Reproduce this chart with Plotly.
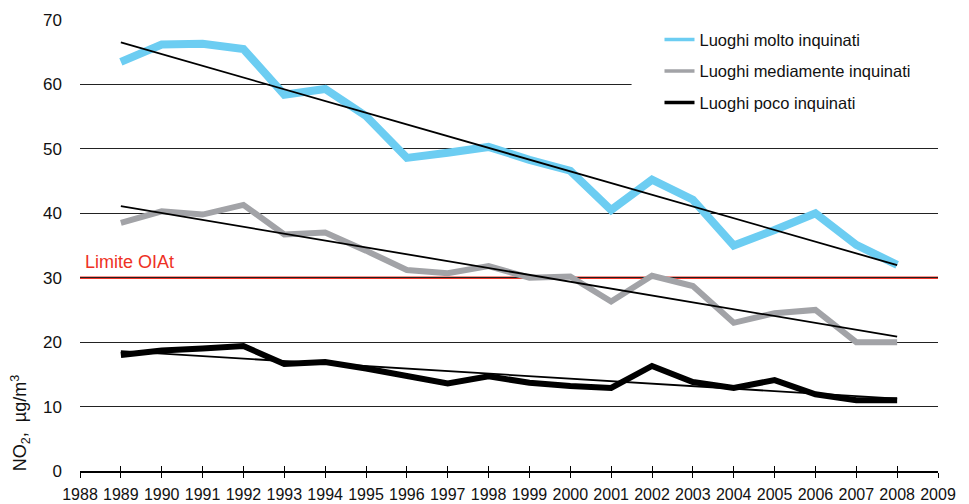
import numpy as np
import plotly.graph_objects as go

# NO2 annual means (µg/m3)
years = list(range(1989, 2009))
molto = [63.5, 66.2, 66.3, 65.5, 58.4, 59.3, 55.1, 48.6, 49.4, 50.3,
         48.3, 46.6, 40.5, 45.2, 42.1, 35.0, 37.4, 40.0, 35.1, 32.0]
medio = [38.5, 40.3, 39.8, 41.3, 36.7, 37.0, 34.2, 31.2, 30.7, 31.8,
         30.0, 30.2, 26.3, 30.3, 28.7, 23.0, 24.5, 25.0, 20.0, 20.0]
poco = [18.0, 18.7, 19.0, 19.4, 16.6, 16.9, 15.9, 14.8, 13.6, 14.7,
        13.7, 13.2, 12.9, 16.3, 13.8, 12.9, 14.1, 11.9, 11.0, 11.0]
names = ["Luoghi molto inquinati", "Luoghi mediamente inquinati", "Luoghi poco inquinati"]
colors = ["#6ccdf2", "#a2a3a7", "#000000"]
widths = [8, 6, 6]
limit_oiat = 30
tick_years = list(range(1988, 2010))

FONT = "Liberation Sans, Arial, sans-serif"

fig = go.Figure()

for i, (series, name) in enumerate(zip([molto, medio, poco], names)):
    fig.add_trace(go.Scatter(
        x=years, y=series, mode='lines', name=name, showlegend=False,
        line=dict(color=colors[i], width=widths[i]),
    ))
    # legend-only entry with a thinner sample line
    fig.add_trace(go.Scatter(
        x=[None], y=[None], mode='lines', name=name, legendgroup=f"g{i}",
        line=dict(color=colors[i], width=3.5),
    ))

# linear trends, drawn on an overlaid axis so they sit above the series
for series in [molto, medio, poco]:
    k, q = np.polyfit(years, series, 1)
    fit = [k * yr + q for yr in years]
    fig.add_trace(go.Scatter(
        x=years, y=fit, mode='lines', showlegend=False, hoverinfo='skip',
        line=dict(color='black', width=1.8), xaxis='x2',
    ))

fig.add_hline(y=limit_oiat, line=dict(color='#ee3124', width=2.5), layer='below')
fig.add_annotation(text="Limite OIAt", xref='paper', yref='y', x=0, y=limit_oiat,
                   xanchor='left', yanchor='bottom', xshift=3, yshift=4,
                   showarrow=False, font=dict(color='#ee3124', size=18, family=FONT))

# white panel behind the legend hides part of the 60 gridline
fig.add_shape(type='rect', xref='x', yref='y', x0=2001.5, x1=2009.5, y0=55, y1=68.5,
              fillcolor='white', line_width=0, layer='between')

fig.add_annotation(text="NO<sub>2</sub>,&nbsp;&nbsp;µg/m<sup>3</sup>", textangle=-90,
                   xref='paper', yref='paper', x=-0.07, y=-0.005,
                   xanchor='center', yanchor='bottom', showarrow=False,
                   font=dict(size=18, color='#111', family=FONT))

# page body has an 8px margin, so the figure is shrunk to fit the window
fig.update_layout(
    width=961, height=496,
    margin=dict(l=72, r=31, t=12, b=33, autoexpand=False),
    plot_bgcolor='white', paper_bgcolor='white',
    font=dict(family=FONT, color='#111'),
    xaxis=dict(range=[1988, 2009], tickvals=tick_years, ticks='outside', ticklen=5,
               tickcolor='black', tickwidth=1.3, showgrid=False, zeroline=False,
               showline=True, linecolor='black', linewidth=2, automargin=False,
               tickfont=dict(size=16), ticklabelstandoff=3),
    xaxis2=dict(range=[1988, 2009], tickvals=tick_years, ticks='inside', ticklen=5,
                tickcolor='black', tickwidth=1.3, overlaying='x', anchor='y',
                side='bottom', showticklabels=False, showgrid=False,
                zeroline=False, showline=False, automargin=False),
    yaxis=dict(range=[0, 70], dtick=10, showgrid=True, gridcolor='#222',
               gridwidth=1, zeroline=False, showline=False, ticks='',
               automargin=False, tickfont=dict(size=17), ticklabelstandoff=17),
    legend=dict(x=0.6754, y=0.995, xanchor='left', yanchor='top',
                bgcolor='rgba(0,0,0,0)', tracegroupgap=7,
                font=dict(size=16.5, color='#111'), itemwidth=30),
    showlegend=True,
)

fig.write_html("out.html")
